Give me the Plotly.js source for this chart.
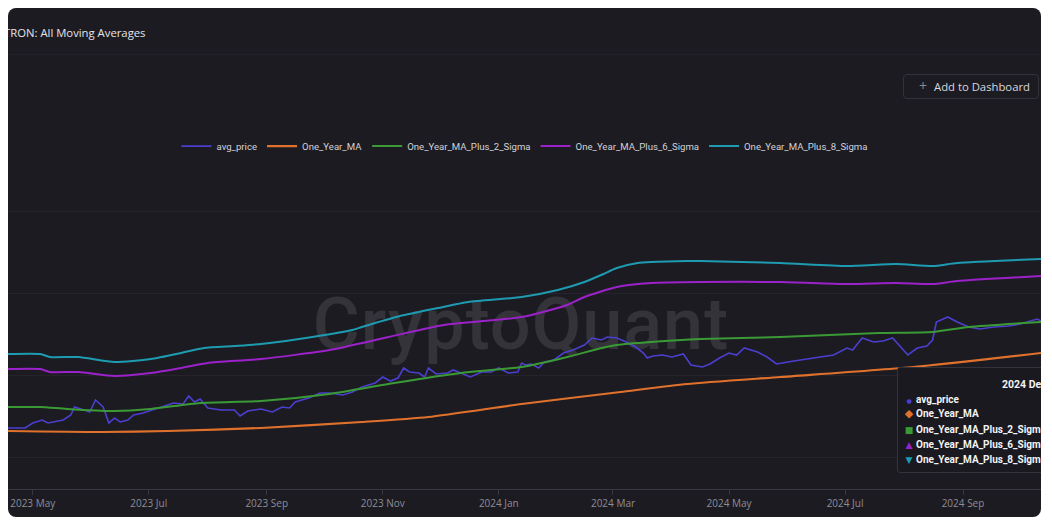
<!DOCTYPE html>
<html><head><meta charset="utf-8">
<script src="https://cdn.plot.ly/plotly-3.0.1.min.js"></script>
<style>
html,body{margin:0;padding:0;background:#ffffff;width:1052px;height:526px;overflow:hidden;}
#card{position:absolute;left:8px;top:8px;width:1033px;height:509px;background:#1c1b22;border-radius:8px;overflow:hidden;}
#title{position:absolute;left:-4px;top:17px;font-family:"Open Sans",sans-serif;font-size:11.3px;line-height:16px;color:#e4e4e8;white-space:nowrap;}
#sep{position:absolute;left:0;top:46px;width:100%;height:1px;background:#222129;}
#btn{position:absolute;left:895px;top:66px;width:136px;height:25px;box-sizing:border-box;border:1px solid #33323a;border-radius:4px;font-family:"Open Sans",sans-serif;font-size:11.3px;color:#d8d8dc;}
#btn .plus{position:absolute;left:15px;top:3px;line-height:16px;color:#8a8a92;font-size:14px;}
#btn .lbl{position:absolute;left:30px;top:4px;line-height:16px;white-space:nowrap;}
#wm{position:absolute;left:263px;top:281px;width:500px;text-align:center;font-family:Roboto,sans-serif;font-weight:500;font-size:72px;line-height:72px;letter-spacing:1px;color:rgba(255,255,255,0.105);white-space:nowrap;}
#plot{position:absolute;left:-8px;top:-8px;width:1052px;height:526px;}
#tip{position:absolute;left:889px;top:359px;width:220px;height:106px;box-sizing:border-box;background:#1a1920;border:1px solid #34333b;border-radius:3px;font-family:Roboto,sans-serif;font-weight:bold;font-size:10px;color:#f2f2f4;white-space:nowrap;}
#tip .t{position:absolute;left:104px;top:10px;line-height:14px;font-size:10.5px;}
#tip .r{position:absolute;left:6px;line-height:14px;}
#tip .m{font-family:"DejaVu Sans",sans-serif;display:inline-block;width:10px;text-align:center;margin-right:2px;}
</style>
</head><body>
<div id="card">
  <div id="title">TRON: All Moving Averages</div>
  <div id="sep"></div>
  <div id="wm">CryptoQuant</div>
  <div id="plot"></div>
  <div id="btn"><span class="plus">+</span><span class="lbl">Add to Dashboard</span></div>
  <div id="tip">
    <div class="t">2024 Dec</div>
    <div class="r" style="top:25px"><span class="m" style="color:#4b3fd0;font-size:6px">●</span>avg_price</div>
    <div class="r" style="top:39px"><span class="m" style="color:#e0712c;font-size:11px">◆</span>One_Year_MA</div>
    <div class="r" style="top:55px"><span class="m" style="color:#3a9a35;font-size:9px">■</span>One_Year_MA_Plus_2_Sigma</div>
    <div class="r" style="top:70px"><span class="m" style="color:#9b22c8;font-size:9px">▲</span>One_Year_MA_Plus_6_Sigma</div>
    <div class="r" style="top:85px"><span class="m" style="color:#1e9bb0;font-size:9px">▼</span>One_Year_MA_Plus_8_Sigma</div>
  </div>
</div>
<script>
// ---- data ----
const avgDates = ['2023-04-18','2023-04-27','2023-05-01','2023-05-06','2023-05-09','2023-05-12','2023-05-17','2023-05-21','2023-05-23','2023-05-28',
'2023-05-31','2023-06-03','2023-06-07','2023-06-10','2023-06-13','2023-06-16','2023-06-20','2023-06-23','2023-06-28','2023-07-06',
'2023-07-09','2023-07-14','2023-07-19','2023-07-22','2023-07-25','2023-07-28','2023-08-01','2023-08-08','2023-08-15','2023-08-18',
'2023-08-22','2023-08-29','2023-09-04','2023-09-09','2023-09-13','2023-09-16','2023-09-23','2023-09-29','2023-10-04','2023-10-11',
'2023-10-16','2023-10-21','2023-10-28','2023-11-01','2023-11-05','2023-11-09','2023-11-12','2023-11-15','2023-11-20','2023-11-23',
'2023-11-25','2023-11-29','2023-12-05','2023-12-08','2023-12-12','2023-12-17','2023-12-23','2023-12-28','2024-01-01','2024-01-06',
'2024-01-11','2024-01-13','2024-01-15','2024-01-18','2024-01-22','2024-01-25','2024-01-30','2024-02-04','2024-02-09','2024-02-15',
'2024-02-19','2024-02-24','2024-02-27','2024-03-03','2024-03-08','2024-03-13','2024-03-17','2024-03-19','2024-03-22','2024-03-27',
'2024-04-01','2024-04-07','2024-04-11','2024-04-17','2024-04-21','2024-04-26','2024-05-01','2024-05-05','2024-05-09','2024-05-16',
'2024-05-21','2024-05-26','2024-06-04','2024-06-11','2024-06-16','2024-06-25','2024-07-02','2024-07-05','2024-07-10','2024-07-16',
'2024-07-21','2024-07-26','2024-08-03','2024-08-08','2024-08-13','2024-08-16','2024-08-18','2024-08-24','2024-08-29','2024-09-04',
'2024-09-10','2024-09-17','2024-09-25','2024-10-01','2024-10-10','2024-10-12'];
const avgPrice = [0.062,0.062,0.067,0.070,0.067,0.068,0.070,0.075,0.083,0.080,
0.078,0.090,0.083,0.067,0.072,0.068,0.070,0.075,0.077,0.082,
0.084,0.087,0.086,0.094,0.088,0.091,0.082,0.080,0.080,0.074,
0.079,0.081,0.078,0.083,0.082,0.088,0.092,0.097,0.097,0.095,
0.098,0.103,0.107,0.113,0.109,0.112,0.122,0.118,0.117,0.113,
0.122,0.116,0.117,0.120,0.117,0.113,0.118,0.118,0.122,0.117,
0.118,0.127,0.125,0.126,0.122,0.128,0.130,0.137,0.140,0.145,
0.152,0.150,0.153,0.152,0.148,0.143,0.137,0.132,0.134,0.135,
0.133,0.136,0.125,0.123,0.126,0.132,0.137,0.135,0.142,0.138,
0.133,0.126,0.129,0.131,0.132,0.135,0.142,0.140,0.152,0.148,
0.149,0.152,0.135,0.142,0.144,0.150,0.168,0.173,0.168,0.163,
0.161,0.163,0.164,0.166,0.171,0.169];

const maDates = ['2023-04-18','2023-06-06','2023-07-11','2023-08-29','2023-10-21','2023-11-25','2024-01-13','2024-03-05','2024-04-09','2024-05-28','2024-08-06','2024-10-12'];
const oneYearMA = [0.059,0.058,0.059,0.062,0.068,0.073,0.086,0.098,0.106,0.113,0.123,0.137];

const sig2Dates = ['2023-04-18','2023-05-05','2023-05-19','2023-06-13','2023-07-02','2023-07-28','2023-08-29','2023-10-04','2023-11-07','2023-12-12','2024-01-13','2024-02-06','2024-02-24','2024-03-03','2024-03-21','2024-04-16','2024-05-28','2024-07-19','2024-08-16','2024-09-04','2024-10-12'];
const plus2Sigma = [0.083,0.083,0.081,0.079,0.081,0.087,0.089,0.096,0.107,0.117,0.123,0.133,0.142,0.145,0.148,0.151,0.153,0.157,0.158,0.163,0.168];

const sig6Dates = ['2023-04-18','2023-05-05','2023-05-10','2023-05-25','2023-06-13','2023-07-02','2023-07-18','2023-08-01','2023-08-29','2023-10-04','2023-11-04','2023-12-03','2024-01-13','2024-02-06','2024-02-15','2024-03-03','2024-03-21','2024-04-16','2024-05-28','2024-07-02','2024-07-28','2024-08-16','2024-08-29','2024-10-12'];
const plus6Sigma = [0.121,0.121,0.118,0.118,0.114,0.117,0.122,0.127,0.131,0.140,0.153,0.165,0.173,0.185,0.193,0.203,0.207,0.208,0.208,0.206,0.207,0.206,0.209,0.214];

const sig8Dates = ['2023-04-18','2023-05-05','2023-05-10','2023-05-25','2023-06-13','2023-07-02','2023-07-18','2023-07-30','2023-08-15','2023-08-29','2023-09-25','2023-10-16','2023-10-21','2023-11-10','2023-11-30','2023-12-16','2024-01-13','2024-02-01','2024-02-15','2024-02-25','2024-03-03','2024-03-14','2024-03-21','2024-04-09','2024-04-16','2024-05-28','2024-07-02','2024-07-28','2024-08-16','2024-08-29','2024-10-12'];
const plus8Sigma = [0.136,0.136,0.133,0.133,0.128,0.131,0.137,0.142,0.144,0.146,0.153,0.160,0.163,0.174,0.182,0.188,0.193,0.200,0.208,0.216,0.222,0.227,0.228,0.229,0.229,0.227,0.224,0.226,0.224,0.227,0.231];

const seriesNames = ['avg_price','One_Year_MA','One_Year_MA_Plus_2_Sigma','One_Year_MA_Plus_6_Sigma','One_Year_MA_Plus_8_Sigma'];
const seriesColors = ['#4b3fd0','#e0712c','#3a9a35','#9b22c8','#1e9bb0'];

const smooth = {shape:'spline', smoothing:0.6, width:2};
const traces = [
  {x:avgDates, y:avgPrice, name:seriesNames[0], type:'scatter', mode:'lines', line:{color:seriesColors[0], width:1.6}},
  {x:maDates, y:oneYearMA, name:seriesNames[1], type:'scatter', mode:'lines', line:Object.assign({color:seriesColors[1]}, smooth, {width:2.2})},
  {x:sig2Dates, y:plus2Sigma, name:seriesNames[2], type:'scatter', mode:'lines', line:Object.assign({color:seriesColors[2]}, smooth)},
  {x:sig6Dates, y:plus6Sigma, name:seriesNames[3], type:'scatter', mode:'lines', line:Object.assign({color:seriesColors[3]}, smooth)},
  {x:sig8Dates, y:plus8Sigma, name:seriesNames[4], type:'scatter', mode:'lines', line:Object.assign({color:seriesColors[4]}, smooth)}
];

const layout = {
  width:1052, height:526,
  margin:{l:8, r:11, t:170, b:37},
  paper_bgcolor:'rgba(0,0,0,0)', plot_bgcolor:'rgba(0,0,0,0)',
  showlegend:true,
  legend:{orientation:'h', x:0.5, xanchor:'center', y:1.075, yanchor:'middle',
    font:{family:'Roboto, sans-serif', size:9.6, color:'#d2d2d8'}, bgcolor:'rgba(0,0,0,0)', itemwidth:30},
  xaxis:{type:'date', range:['2023-04-18','2024-10-12'], tick0:'2023-05-01', dtick:'M2', tickformat:'%Y %b',
    showgrid:false, zeroline:false, showline:true, linecolor:'#393842', linewidth:1,
    ticks:'outside', ticklen:5, tickcolor:'#393842',
    tickfont:{family:'Open Sans, sans-serif', size:10, color:'#8d8d97'}},
  yaxis:{range:[0.001,0.320], tick0:0.033, dtick:0.082, showticklabels:false, zeroline:false,
    showgrid:true, gridcolor:'rgba(255,255,255,0.045)', showline:false}
};

Plotly.newPlot('plot', traces, layout, {displayModeBar:false, staticPlot:true});
</script>
</body></html>
